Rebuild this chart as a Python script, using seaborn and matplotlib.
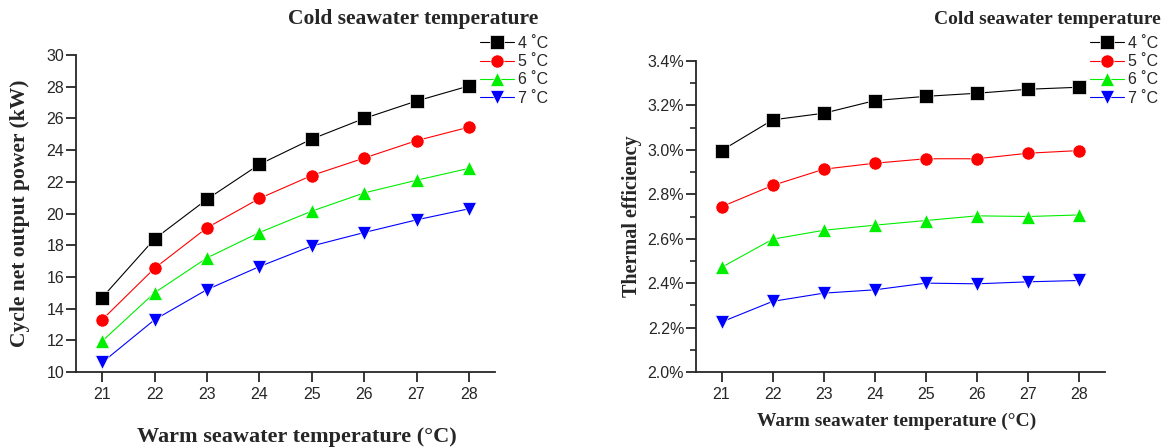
import seaborn as sns
import matplotlib
matplotlib.use('Agg')
import matplotlib.pyplot as plt
from matplotlib.ticker import MultipleLocator, FuncFormatter
import pandas as pd

warm_temp = [21, 22, 23, 24, 25, 26, 27, 28]
cold_labels = ['4 \u02daC', '5 \u02daC', '6 \u02daC', '7 \u02daC']

# cycle net output power (kW)
power_4 = [14.7, 18.4, 20.9, 23.1, 24.7, 26.0, 27.1, 28.05]
power_5 = [13.3, 16.55, 19.1, 20.95, 22.4, 23.5, 24.6, 25.45]
power_6 = [11.95, 15.0, 17.2, 18.8, 20.15, 21.3, 22.1, 22.85]
power_7 = [10.6, 13.3, 15.2, 16.65, 17.95, 18.8, 19.6, 20.3]

# thermal efficiency (%)
eff_4 = [2.997, 3.135, 3.165, 3.222, 3.241, 3.255, 3.273, 3.282]
eff_5 = [2.744, 2.840, 2.913, 2.940, 2.960, 2.960, 2.985, 2.997]
eff_6 = [2.471, 2.598, 2.638, 2.661, 2.682, 2.703, 2.700, 2.707]
eff_7 = [2.225, 2.318, 2.355, 2.370, 2.400, 2.397, 2.406, 2.412]

colors = ['#000000', '#ff0000', '#00ee00', '#0000ff']
markers = ['s', 'o', '^', 'v']


def to_long(series, name):
    rows = []
    for lab, vals in zip(cold_labels, series):
        for t, v in zip(warm_temp, vals):
            rows.append({'warm': t, name: v, 'cold': lab})
    return pd.DataFrame(rows)


df_power = to_long([power_4, power_5, power_6, power_7], 'power')
df_eff = to_long([eff_4, eff_5, eff_6, eff_7], 'eff')

sns.set_style('ticks')
plt.rcParams['font.family'] = ['Liberation Sans', 'DejaVu Sans']
plt.rcParams['axes.linewidth'] = 1.3

fig = plt.figure(figsize=(11.66, 4.47), dpi=100)
ax1 = fig.add_axes([0.0652, 0.1678, 0.3594, 0.709])
ax2 = fig.add_axes([0.5969, 0.1678, 0.3508, 0.6957])

serif = {'family': 'Liberation Serif', 'weight': 'bold'}

legend_items = {}
for ax, df, col in [(ax1, df_power, 'power'), (ax2, df_eff, 'eff')]:
    sns.lineplot(data=df, x='warm', y=col, hue='cold', style='cold',
                 palette=colors, markers=markers, dashes=False,
                 markersize=9.5, linewidth=0.8, markeredgewidth=0.5,
                 ax=ax, legend=True)
    ax.set_xlim(20.5, 28.5)
    ax.set_xticks(warm_temp)
    sns.despine(ax=ax)
    ax.tick_params(axis='both', direction='out', length=7, width=1.3,
                   labelsize=11.5, pad=3.5)
    ax.tick_params(axis='y', pad=1.5)
    legend_items[ax] = ax.get_legend_handles_labels()
    ax.get_legend().remove()

ax1.set_ylim(10, 30)
ax1.yaxis.set_major_locator(MultipleLocator(2))
ax1.set_ylabel('Cycle net output power (kW)', fontdict=serif, fontsize=15.5)
ax1.set_xlabel('Warm seawater temperature (\u00b0C)', fontdict=serif, fontsize=16)
ax1.yaxis.set_label_coords(-0.11, 0.5)
ax1.xaxis.set_label_coords(0.527, -0.175)

ax2.set_ylim(2.0, 3.4)
ax2.yaxis.set_major_locator(MultipleLocator(0.2))
ax2.yaxis.set_minor_locator(MultipleLocator(0.1))
ax2.yaxis.set_major_formatter(FuncFormatter(lambda v, p: f'{v:.1f}%'))
ax2.tick_params(axis='y', which='minor', direction='out', length=4, width=1.2)
ax2.set_ylabel('Thermal efficiency', fontdict=serif, fontsize=14.5)
ax2.set_xlabel('Warm seawater temperature (\u00b0C)', fontdict=serif, fontsize=14)
ax2.yaxis.set_label_coords(-0.132, 0.5)
ax2.xaxis.set_label_coords(0.49, -0.13)

fig.text(0.354, 0.957, 'Cold seawater temperature', ha='center', va='center',
         family='Liberation Serif', weight='bold', fontsize=15.5)
fig.text(0.898, 0.957, 'Cold seawater temperature', ha='center', va='center',
         family='Liberation Serif', weight='bold', fontsize=14)

for ax, xa in [(ax1, 480 / 1166), (ax2, 1090 / 1166)]:
    handles, labels = legend_items[ax]
    fig.legend(handles, labels, loc='upper left',
               bbox_to_anchor=(xa, 1 - 36 / 447), frameon=False,
               fontsize=11.5, handlelength=2.1, handletextpad=0.3,
               labelspacing=0.2, borderpad=0, borderaxespad=0)

fig.savefig('out.png', dpi=100)
